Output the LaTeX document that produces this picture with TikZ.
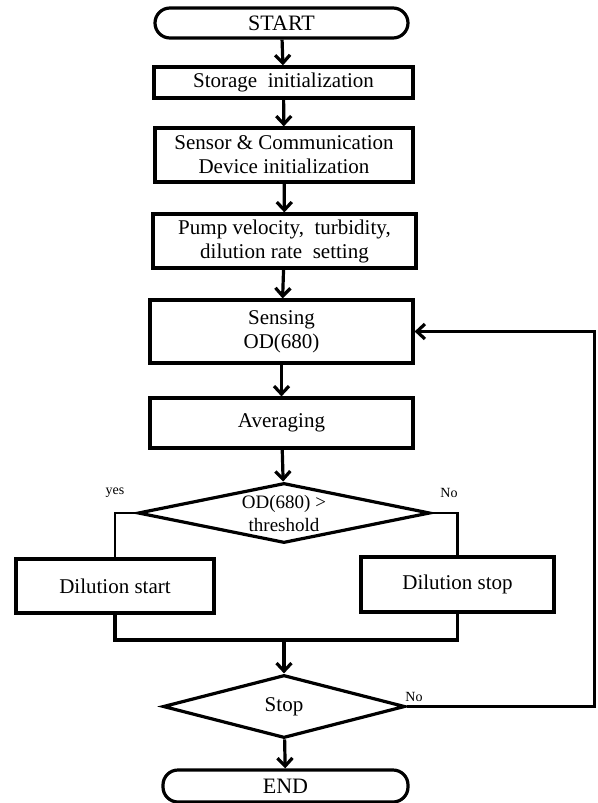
\documentclass[tikz,border=0pt]{standalone}
\usepackage{fontspec}
\setmainfont{Liberation Serif}
\usepackage{tikz}
\usetikzlibrary{shapes, arrows, positioning, arrows.meta}

\tikzset{
  caja/.style={draw, line width=3.2pt, inner sep=0pt, align=center,
    font=\fontsize{21}{24}\selectfont},
  terminal/.style={caja, rounded corners=15pt, font=\fontsize{22}{24}\selectfont},
  decision/.style={diamond, draw, line width=3.2pt, inner sep=0pt},
  flecha/.style={-{Straight Barb[length=8pt,width=15pt]}, line width=3.2pt},
  linea/.style={line width=3.2pt},
  fina/.style={line width=2.3pt},
  etiq/.style={font=\fontsize{14}{16}\selectfont},
}

\begin{document}
\begin{tikzpicture}[x=1pt, y=-1pt]
            \useasboundingbox (0,0) rectangle (597,803);

            % Inicio y configuracion
            \node[terminal, minimum width=253pt, minimum height=30pt] (start) at (281.5,23) {START};
            \node[caja, minimum width=259pt, minimum height=31pt] (storage) at (283.5,82.5) {Storage\ \ initialization};
            \node[caja, minimum width=258pt, minimum height=54pt] (sensor) at (284,155) {Sensor \& Communication\\Device initialization};
            \node[caja, minimum width=263pt, minimum height=54pt] (pump) at (284.5,241) {Pump velocity,\ \ turbidity,\\dilution rate\ \ setting};

            % Medicion
            \node[caja, minimum width=263pt, minimum height=63pt] (sensing) at (281.5,331.5) {Sensing\\OD(680)};
            \node[caja, minimum width=263pt, minimum height=50pt] (avg) at (281.5,423) {Averaging};

            % Decision de dilucion
            \node[decision, minimum width=292pt, minimum height=60pt,
              label={[align=center, font=\fontsize{19}{23}\selectfont]center:OD(680) \textgreater\\threshold}] (dec) at (284,513) {};
            \node[caja, minimum width=198pt, minimum height=54pt] (dstart) at (115,586) {Dilution start};
            \node[caja, minimum width=193pt, minimum height=55pt] (dstop) at (457.5,584.5) {Dilution stop};
            \coordinate (merge) at (284,640);

            % Fin
            \node[decision, minimum width=242pt, minimum height=63pt,
              label={[font=\fontsize{21}{24}\selectfont]center:Stop}] (stop) at (284,706.5) {};
            \node[terminal, minimum width=245pt, minimum height=32pt] (end) at (285.5,786) {END};

            % Conectores
            \draw[flecha] (start) -- (storage);
            \draw[flecha] (storage) -- (sensor);
            \draw[flecha] (sensor) -- (pump);
            \draw[flecha] (pump) -- (sensing);
            \draw[flecha] (sensing) -- (avg);
            \draw[flecha] (avg) -- (dec);
            \draw[fina] (dec.west) -| (dstart.north);
            \draw[fina] (dec.east) -| (dstop.north);
            \draw[linea] (dstart.south) |- (merge) -| (dstop.south);
            \draw[flecha] (merge) -- (stop.north);
            \draw[flecha] (stop) -- (end);
            \draw[flecha] (stop.east) -- ++(188,0) |- (sensing.east);

            \node[etiq] (yes) at (115,493) {yes};
            \node[etiq] (no1) at (449,493) {No};
            \node[etiq] (no2) at (414,697) {No};
        \end{tikzpicture}
\end{document}
